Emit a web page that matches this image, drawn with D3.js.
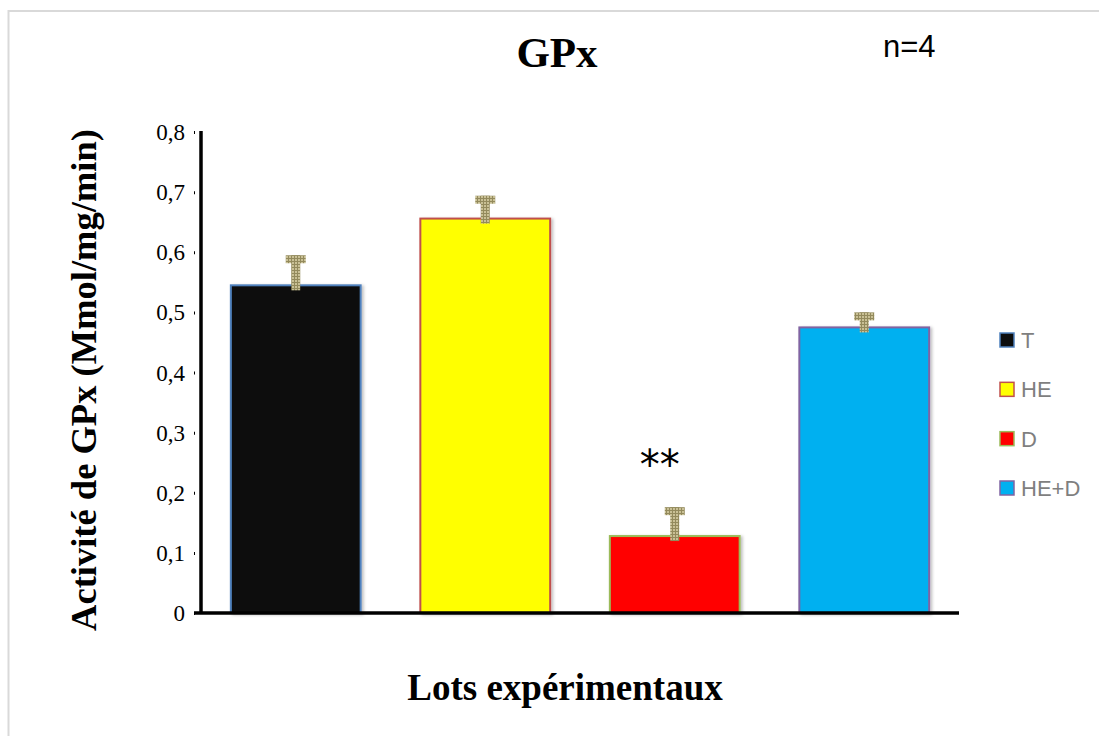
<!DOCTYPE html>
<html><head><meta charset="utf-8">
<script src="https://cdn.jsdelivr.net/npm/d3@7"></script>
<style>body{margin:0;background:#fff}svg{display:block}</style>
</head><body>
<svg id="c" width="1099" height="736"></svg>
<script>
const categories = ["T", "HE", "D", "HE+D"];
const means = [0.545, 0.656, 0.128, 0.475];
const errors = [0.050, 0.038, 0.048, 0.025];
const yTicks = [0, 0.1, 0.2, 0.3, 0.4, 0.5, 0.6, 0.7, 0.8];
const fills = ["#0d0d0d", "#ffff00", "#ff0000", "#00b0f0"];
const strokes = ["#4f81bd", "#c0504d", "#9bbb59", "#8064a2"];
const significance = ["", "", "**", ""];

const svg = d3.select("#c");
const defs = svg.append("defs");
const pat = defs.append("pattern").attr("id","grid").attr("patternUnits","userSpaceOnUse")
  .attr("width",3).attr("height",3);
pat.append("rect").attr("width",3).attr("height",3).attr("fill","#c9c095");
pat.append("path").attr("d","M0,0.5H3M0.5,0V3").attr("stroke","#938a5c").attr("stroke-width",1);
const flt = defs.append("filter").attr("id","sh").attr("x","-10%").attr("y","-10%").attr("width","130%").attr("height","130%");
flt.append("feDropShadow").attr("dx",2).attr("dy",1).attr("stdDeviation",1.5).attr("flood-color","#000").attr("flood-opacity",0.25);

// outer border
svg.append("rect").attr("x",8.5).attr("y",11).attr("width",1200).attr("height",800)
  .attr("fill","none").attr("stroke","#d9d9d9").attr("stroke-width",2);

const x = d3.scaleBand().domain(categories).range([201,959]).paddingInner(0.315).paddingOuter(0.1575);
const y = d3.scaleLinear().domain([0,0.8]).range([613,132]);

// bars
svg.selectAll(".bar").data(categories).enter().append("rect")
  .attr("x", d => x(d)).attr("width", x.bandwidth())
  .attr("y", (d,i) => y(means[i])).attr("height", (d,i) => y(0)-y(means[i]))
  .attr("fill", (d,i) => fills[i]).attr("stroke", (d,i) => strokes[i]).attr("stroke-width",2)
  .attr("filter","url(#sh)");

// error bars (T shape)
categories.forEach((d,i) => {
  const cx = x(d) + x.bandwidth()/2;
  const top = y(means[i]+errors[i]);
  const base = y(means[i]) + 5;
  const g = svg.append("g").attr("fill","url(#grid)");
  g.append("rect").attr("x",cx-4.5).attr("y",top).attr("width",9).attr("height",base-top);
  g.append("rect").attr("x",cx-10).attr("y",top).attr("width",20).attr("height",8);
  if (significance[i]) {
    svg.append("text").attr("x",cx-15).attr("y",top-28).attr("text-anchor","middle")
      .attr("font-family","DejaVu Sans, sans-serif").attr("font-size",40).attr("fill","#000")
      .text(significance[i]);
  }
});

// axes
const yAxis = d3.axisLeft(y).tickValues(yTicks).tickSize(6).tickSizeOuter(0)
  .tickFormat(v => v===0 ? "0" : d3.format(".1f")(v).replace(".", ","));
const gy = svg.append("g").attr("transform","translate(201,0)").call(yAxis);
gy.select(".domain").attr("stroke","#000").attr("stroke-width",3.5).attr("d","M0,131V614");
gy.selectAll(".tick line").attr("stroke","#000").attr("stroke-width",3).attr("x1",-7);
gy.selectAll(".tick text").attr("font-family","Liberation Serif, serif").attr("font-size",23)
  .attr("fill","#000").attr("x",-16).attr("dy","0.33em");

const xAxis = d3.axisBottom(x).tickSize(0).tickFormat("");
const gx = svg.append("g").attr("transform","translate(0,613)").call(xAxis);
gx.select(".domain").attr("stroke","#000").attr("stroke-width",3.5).attr("d","M194,0H959");

// title & labels
svg.append("text").attr("x",557).attr("y",67).attr("text-anchor","middle")
  .attr("font-family","Liberation Serif, serif").attr("font-weight","bold").attr("font-size",43).text("GPx");
svg.append("text").attr("x",883).attr("y",57)
  .attr("font-family","Liberation Sans, sans-serif").attr("font-size",31).text("n=4");
svg.append("text").attr("transform","translate(96,380) rotate(-90)").attr("text-anchor","middle")
  .attr("font-family","Liberation Serif, serif").attr("font-weight","bold").attr("font-size",36.5)
  .text("Activité de GPx (Mmol/mg/min)");
svg.append("text").attr("x",565).attr("y",700).attr("text-anchor","middle")
  .attr("font-family","Liberation Serif, serif").attr("font-weight","bold").attr("font-size",37)
  .text("Lots expérimentaux");

// legend
const leg = svg.append("g");
const legY = d3.scalePoint().domain(categories).range([340,488]);
categories.forEach((d,i) => {
  const ly = legY(d);
  leg.append("rect").attr("x",1000).attr("y",ly-7).attr("width",14).attr("height",14)
    .attr("fill",fills[i]).attr("stroke",strokes[i]).attr("stroke-width",1.5);
  leg.append("text").attr("x",1021).attr("y",ly).attr("dy","0.36em")
    .attr("font-family","Liberation Sans, sans-serif").attr("font-size",22).attr("fill","#7f7f7f").text(d);
});
</script>
</body></html>
